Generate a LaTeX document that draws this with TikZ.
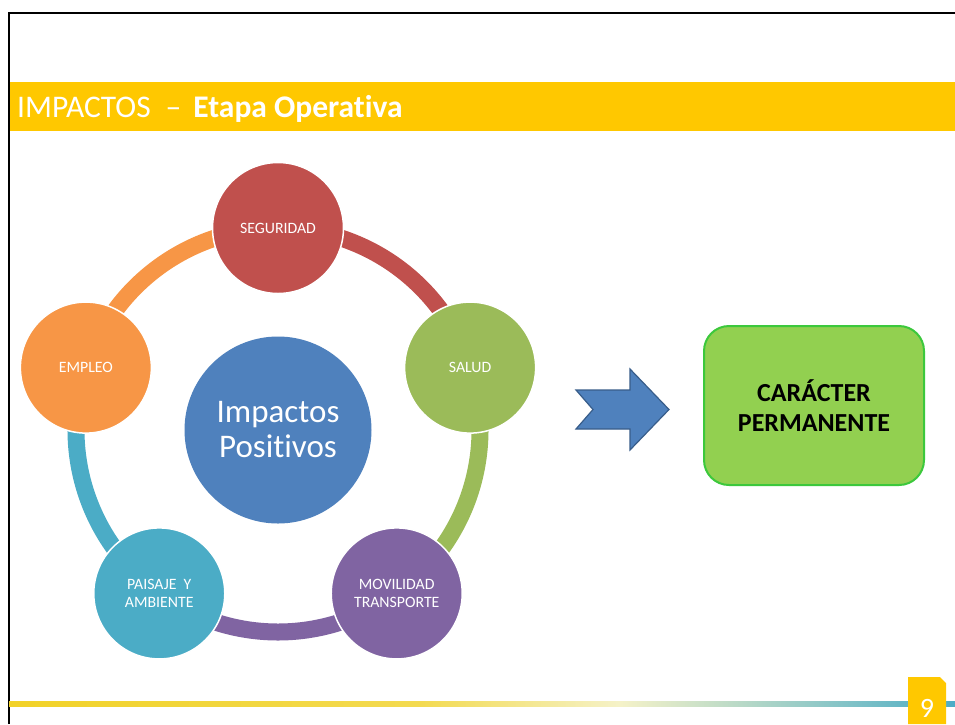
\documentclass[tikz,border=0pt]{standalone}
\usepackage{fontspec}
\setmainfont{Carlito}[Ligatures=NoCommon]
\usetikzlibrary{calc}
\definecolor{hdr}{RGB}{255,200,0}
\definecolor{cred}{RGB}{192,80,77}
\definecolor{cgreen}{RGB}{155,187,89}
\definecolor{cpurple}{RGB}{128,100,162}
\definecolor{cteal}{RGB}{75,172,198}
\definecolor{corange}{RGB}{247,150,70}
\definecolor{cblue}{RGB}{79,129,189}
\definecolor{cbluedark}{RGB}{56,93,138}
\definecolor{boxfill}{RGB}{146,208,80}
\definecolor{boxline}{RGB}{60,200,60}
\definecolor{lineyel}{RGB}{242,210,40}
\definecolor{linepale}{RGB}{245,242,200}
\definecolor{lineblue}{RGB}{75,172,198}
\tikzset{
  petal/.style={circle, minimum size=131pt, inner sep=0pt, draw=white, line width=1.5pt,
    text=white, font=\fontsize{15.8}{18}\selectfont, align=center},
  ringarc/.style={line width=17pt},
}
\begin{document}
\begin{tikzpicture}[x=1pt,y=-1pt]
\useasboundingbox (0,0) rectangle (955,724);
\fill[white] (0,0) rectangle (955,724);
% header bar
\fill[hdr] (9,82) rectangle (955,131);
\node[anchor=base west, inner sep=0pt, text=white, font=\fontsize{31.5}{36}\selectfont] (title) at (17,117)
  {IMPACTOS\hspace{15pt}–\hspace{12pt}\textbf{Etapa Operativa}};
% frame lines
\draw[black, line width=2.2pt] (9,724) -- (9,13) -- (955,13);
% bottom gradient line
\shade[left color=lineyel, right color=lineyel!75!linepale] (9,701) rectangle (420,706);
\shade[left color=lineyel!75!linepale, right color=linepale] (420,701) rectangle (620,706);
\shade[left color=linepale, right color=lineblue] (620,701) rectangle (955,706);
% page number box
\fill[hdr] (908,677) -- (940,677) -- (946,683) -- (946,724) -- (908,724) -- cycle;
\node[text=white, font=\fontsize{28}{30}\selectfont, inner sep=0pt] (pnum) at (927,708) {9};
% ring
\coordinate (ring) at (278,430);
\draw[ringarc, cred] (ring) ++(-90:202) arc[start angle=-90, end angle=-18, radius=202];
\draw[ringarc, cgreen] (ring) ++(-18:202) arc[start angle=-18, end angle=54, radius=202];
\draw[ringarc, cpurple] (ring) ++(54:202) arc[start angle=54, end angle=126, radius=202];
\draw[ringarc, cteal] (ring) ++(126:202) arc[start angle=126, end angle=198, radius=202];
\draw[ringarc, corange] (ring) ++(198:202) arc[start angle=198, end angle=270, radius=202];
% petals
\node[petal, fill=cred] (seg) at ($(ring)+(-90:202)$) {SEGURIDAD};
\node[petal, fill=cgreen] (sal) at ($(ring)+(-18:202)$) {SALUD};
\node[petal, fill=cpurple] (mov) at ($(ring)+(54:202)$) {MOVILIDAD\\TRANSPORTE};
\node[petal, fill=cteal] (pai) at ($(ring)+(126:202)$) {PAISAJE\ \ Y\\AMBIENTE};
\node[petal, fill=corange] (emp) at ($(ring)+(198:202)$) {EMPLEO};
% center
\node[circle, minimum size=187pt, inner sep=0pt, fill=cblue, text=white,
  font=\fontsize{33}{35}\selectfont, align=center] (center) at (ring) {Impactos\\Positivos};
% notched arrow
\filldraw[fill=cblue, draw=cbluedark, line width=1.2pt, line join=miter]
  (576,390) -- (630,390) -- (630,369) -- (669,409.5) -- (630,450) -- (630,429) -- (576,429) -- (593,409.5) -- cycle;
% result box
\node[draw=boxline, fill=boxfill, line width=2pt, rounded corners=25pt,
  minimum width=220pt, minimum height=159pt, inner sep=0pt,
  font=\bfseries\fontsize{26}{30}\selectfont, align=center] (box) at (814,405.5)
  {CARÁCTER\\PERMANENTE};
\end{tikzpicture}
\end{document}
